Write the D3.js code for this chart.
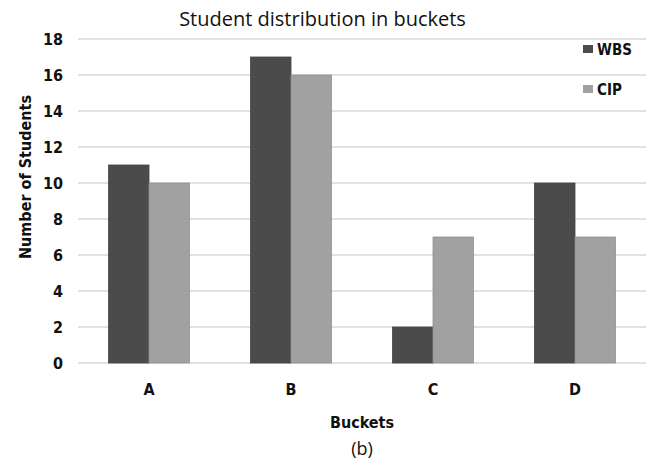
<!DOCTYPE html>
<html>
<head>
<meta charset="utf-8">
<script src="https://cdn.jsdelivr.net/npm/d3@7/dist/d3.min.js"></script>
<style>
  html, body { margin: 0; padding: 0; background: #fff; }
  svg { display: block; }
  text { fill: #111; }
</style>
</head>
<body>
<svg id="chart" width="647" height="470"></svg>
<script>
// Student counts per bucket for the two methods
const categories = ["A", "B", "C", "D"];
const seriesNames = ["WBS", "CIP"];
const wbsValues = [11, 17, 2, 10];
const cipValues = [10, 16, 7, 7];
const yTicks = [0, 2, 4, 6, 8, 10, 12, 14, 16, 18];

const colors = { WBS: "#4b4b4b", CIP: "#a1a1a1" };
const boldFont = "'DejaVu Sans Condensed', 'DejaVu Sans', sans-serif";
const textFont = "'Open Sans', 'Liberation Sans', sans-serif";

const svg = d3.select("#chart");
const plotLeft = 78, plotRight = 646, plotTop = 39, plotBottom = 363;

const x = d3.scaleBand().domain(categories).range([plotLeft, plotRight])
  .paddingInner(0.43).paddingOuter(0.215);
const xs = d3.scaleBand().domain(seriesNames).range([0, x.bandwidth()]);
const y = d3.scaleLinear().domain([0, 18]).range([plotBottom, plotTop]);

// horizontal gridlines
svg.append("g").selectAll("line").data(yTicks).join("line")
  .attr("x1", plotLeft).attr("x2", plotRight)
  .attr("y1", d => y(d)).attr("y2", d => y(d))
  .attr("stroke", "#d9d9d9").attr("stroke-width", 1.6);

// y tick labels
const yAxis = svg.append("g").attr("transform", `translate(${plotLeft},0)`)
  .call(d3.axisLeft(y).tickValues(yTicks).tickSize(0).tickPadding(15));
yAxis.select(".domain").remove();
yAxis.selectAll("text").style("font-family", boldFont).style("font-size", "16px")
  .style("font-weight", "bold").attr("fill", "#111");

// bars
const rows = categories.map((c, i) => ({ cat: c, WBS: wbsValues[i], CIP: cipValues[i] }));
const groups = svg.append("g").selectAll("g").data(rows).join("g")
  .attr("transform", d => `translate(${x(d.cat)},0)`);
groups.selectAll("rect").data(d => seriesNames.map(s => ({ s, v: d[s] }))).join("rect")
  .attr("x", d => xs(d.s)).attr("width", xs.bandwidth())
  .attr("y", d => y(d.v)).attr("height", d => y(0) - y(d.v))
  .attr("fill", d => colors[d.s])
  .attr("stroke", d => d3.color(colors[d.s]).darker(0.3)).attr("stroke-width", 0.8);

// x category labels
const xAxis = svg.append("g").attr("transform", `translate(0,${plotBottom})`)
  .call(d3.axisBottom(x).tickSize(0).tickPadding(21));
xAxis.select(".domain").remove();
xAxis.selectAll("text").style("font-family", boldFont).style("font-size", "16px")
  .style("font-weight", "bold").attr("fill", "#111");

// title
svg.append("text").attr("x", 322.5).attr("y", 26).attr("text-anchor", "middle")
  .style("font-family", textFont).style("font-size", "20px").text("Student distribution in buckets");

// axis titles
svg.append("text").attr("transform", "translate(31,177) rotate(-90)")
  .attr("text-anchor", "middle")
  .style("font-family", boldFont).style("font-size", "16px").style("font-weight", "bold")
  .text("Number of Students");
svg.append("text").attr("x", (plotLeft + plotRight) / 2).attr("y", 428).attr("text-anchor", "middle")
  .style("font-family", boldFont).style("font-size", "16px").style("font-weight", "bold")
  .text("Buckets");
svg.append("text").attr("x", (plotLeft + plotRight) / 2).attr("y", 455).attr("text-anchor", "middle")
  .style("font-family", textFont).style("font-size", "18px")
  .text("(b)");

// legend
const legend = svg.append("g").selectAll("g").data(seriesNames).join("g")
  .attr("transform", (d, i) => `translate(583,${49 + i * 40})`);
legend.append("rect").attr("x", 0).attr("y", -4).attr("width", 10).attr("height", 8)
  .attr("fill", d => colors[d]);
legend.append("text").attr("x", 14).attr("y", 6)
  .style("font-family", boldFont).style("font-size", "15px").style("font-weight", "bold")
  .text(d => d);
</script>
</body>
</html>
